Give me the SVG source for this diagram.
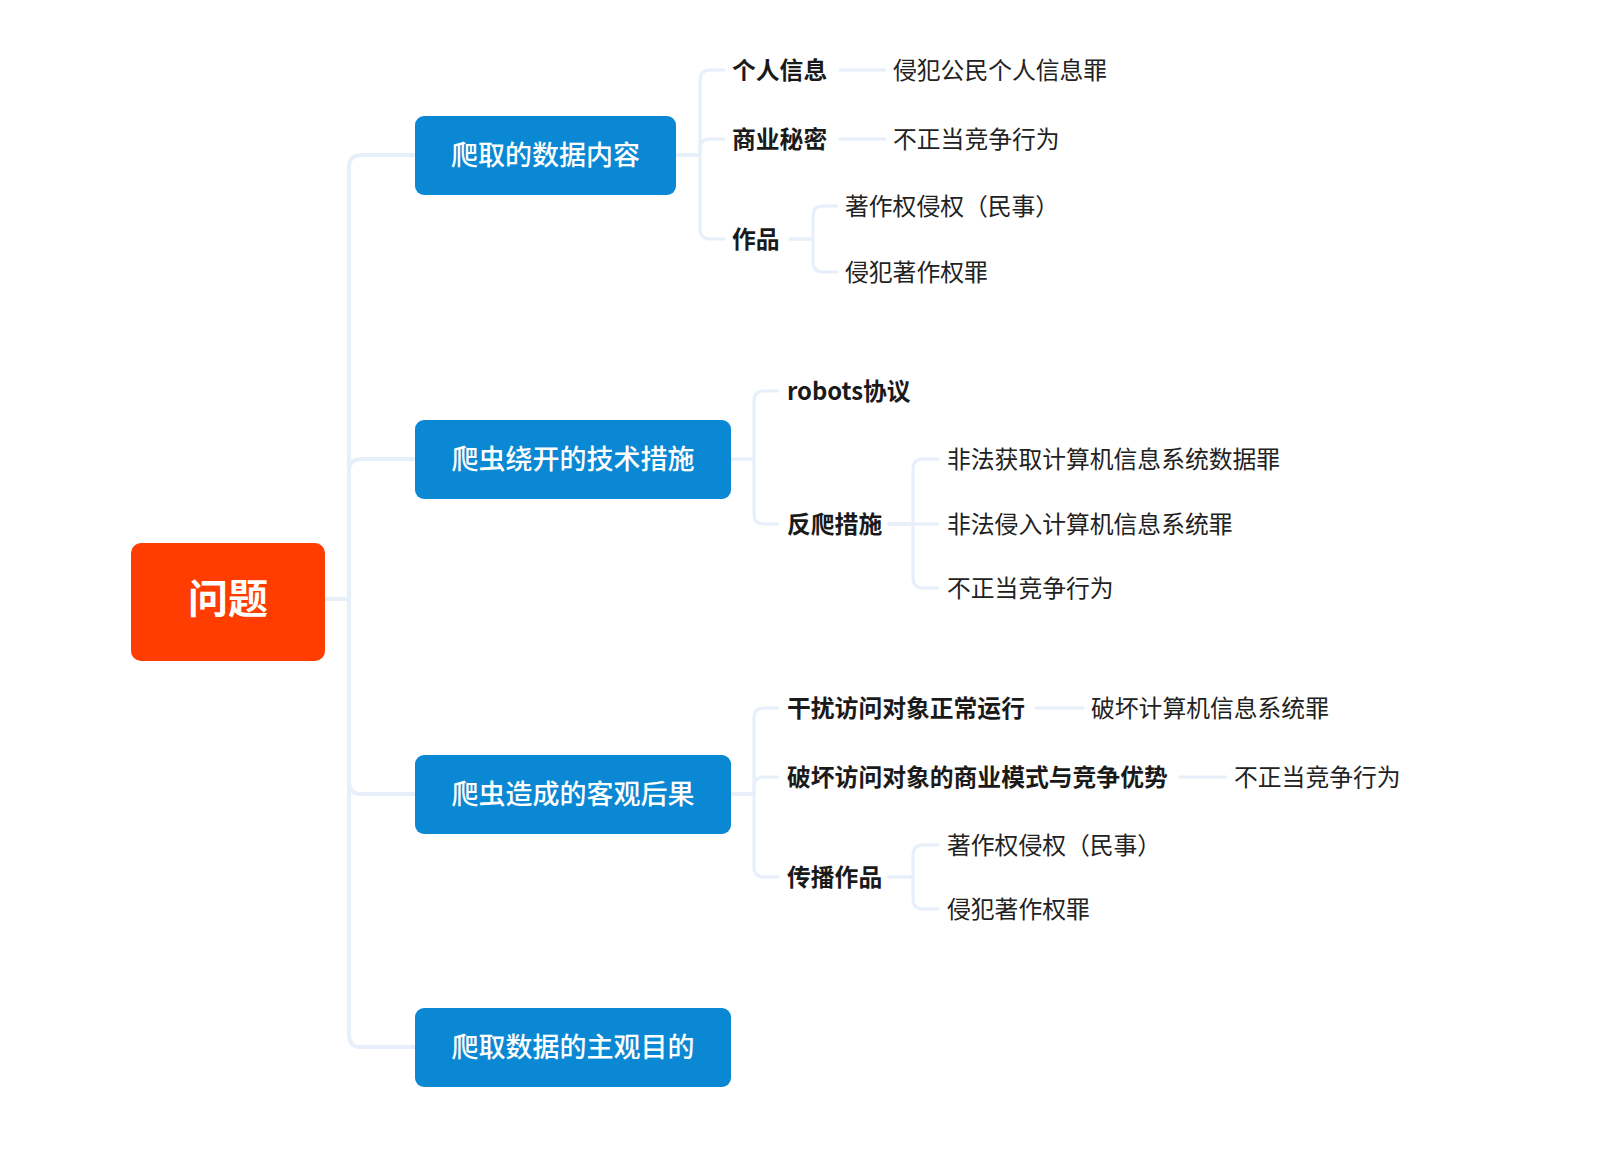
<svg xmlns="http://www.w3.org/2000/svg" width="1609" height="1149" viewBox="0 0 1609 1149">
<style>
.bg{fill:#ffffff}
.c{fill:none;stroke:#E7F0FA;stroke-width:3;stroke-linecap:round;stroke-linejoin:round}
.t{stroke-width:4}
.root rect{fill:#FF3D00}
.main rect{fill:#0A88D3}
.root text{fill:#ffffff;font-family:"Noto Sans CJK SC","Noto Sans",sans-serif;font-size:40px;font-weight:700}
.main text{fill:#ffffff;font-family:"Noto Sans CJK SC","Noto Sans",sans-serif;font-size:27px;font-weight:500}
.sub{fill:#1a1a1a;font-family:"Noto Sans CJK SC","Noto Sans",sans-serif;font-size:23.8px;font-weight:700}
.leaf{fill:#222222;font-family:"Noto Sans CJK SC","Noto Sans",sans-serif;font-size:23.8px;font-weight:400}
</style>
<rect class="bg" x="0" y="0" width="1609" height="1149"/>

<g id="connectors">
  <path class="c t" d="M325,599 H349 V167 Q349,155 361,155 H415"/>
  <path class="c t" d="M325,599 H349 V471 Q349,459 361,459 H415"/>
  <path class="c t" d="M325,599 H349 V782 Q349,794 361,794 H415"/>
  <path class="c t" d="M325,599 H349 V1035 Q349,1047 361,1047 H415"/>
  <path class="c" d="M676,155 H700 V80 Q700,70 710,70 H724"/>
  <path class="c" d="M676,155 H700 V149 Q700,139 710,139 H724"/>
  <path class="c" d="M676,155 H700 V229 Q700,239 710,239 H724"/>
  <path class="c" d="M840,70 H885"/>
  <path class="c" d="M840,139 H885"/>
  <path class="c" d="M790,239 H813 V216 Q813,206 823,206 H837"/>
  <path class="c" d="M790,239 H813 V262 Q813,272 823,272 H837"/>
  <path class="c" d="M731,459 H754 V401 Q754,391 764,391 H778"/>
  <path class="c" d="M731,459 H754 V514 Q754,524 764,524 H778"/>
  <path class="c" d="M889,524 H913 V469 Q913,459 923,459 H938"/>
  <path class="c" d="M889,524 H938"/>
  <path class="c" d="M889,524 H913 V578 Q913,588 923,588 H938"/>
  <path class="c" d="M731,794 H754 V718 Q754,708 764,708 H778"/>
  <path class="c" d="M731,794 H754 V787 Q754,777 764,777 H778"/>
  <path class="c" d="M731,794 H754 V867 Q754,877 764,877 H778"/>
  <path class="c" d="M1036,708 H1083"/>
  <path class="c" d="M1180,777 H1226"/>
  <path class="c" d="M889,877 H913 V855 Q913,845 923,845 H938"/>
  <path class="c" d="M889,877 H913 V899 Q913,909 923,909 H938"/>
</g>

<g id="root" class="root">
  <rect x="131" y="543" width="194" height="118" rx="10"/>
  <text x="228" y="596" text-anchor="middle" dominant-baseline="central">问题</text>
</g>

<g id="n1" class="main">
  <rect x="415" y="116" width="261" height="79" rx="9"/>
  <text x="545.5" y="153" text-anchor="middle" dominant-baseline="central">爬取的数据内容</text>
</g>
<g id="n2" class="main">
  <rect x="415" y="420" width="316" height="79" rx="9"/>
  <text x="573" y="457" text-anchor="middle" dominant-baseline="central">爬虫绕开的技术措施</text>
</g>
<g id="n3" class="main">
  <rect x="415" y="755" width="316" height="79" rx="9"/>
  <text x="573" y="792" text-anchor="middle" dominant-baseline="central">爬虫造成的客观后果</text>
</g>
<g id="n4" class="main">
  <rect x="415" y="1008" width="316" height="79" rx="9"/>
  <text x="573" y="1045" text-anchor="middle" dominant-baseline="central">爬取数据的主观目的</text>
</g>

<g id="n1a"><text class="sub" x="732" y="68" dominant-baseline="central">个人信息</text></g>
<g id="n1a1"><text class="leaf" x="893" y="68" dominant-baseline="central">侵犯公民个人信息罪</text></g>
<g id="n1b"><text class="sub" x="732" y="137" dominant-baseline="central">商业秘密</text></g>
<g id="n1b1"><text class="leaf" x="893" y="137" dominant-baseline="central">不正当竞争行为</text></g>
<g id="n1c"><text class="sub" x="732" y="237" dominant-baseline="central">作品</text></g>
<g id="n1c1"><text class="leaf" x="845" y="204" dominant-baseline="central">著作权侵权（民事）</text></g>
<g id="n1c2"><text class="leaf" x="845" y="270" dominant-baseline="central">侵犯著作权罪</text></g>

<g id="n2a"><text class="sub" x="787" y="389" dominant-baseline="central">robots协议</text></g>
<g id="n2b"><text class="sub" x="787" y="522" dominant-baseline="central">反爬措施</text></g>
<g id="n2b1"><text class="leaf" x="947" y="457" dominant-baseline="central">非法获取计算机信息系统数据罪</text></g>
<g id="n2b2"><text class="leaf" x="947" y="522" dominant-baseline="central">非法侵入计算机信息系统罪</text></g>
<g id="n2b3"><text class="leaf" x="947" y="586" dominant-baseline="central">不正当竞争行为</text></g>

<g id="n3a"><text class="sub" x="787" y="706" dominant-baseline="central">干扰访问对象正常运行</text></g>
<g id="n3a1"><text class="leaf" x="1091" y="706" dominant-baseline="central">破坏计算机信息系统罪</text></g>
<g id="n3b"><text class="sub" x="787" y="775" dominant-baseline="central">破坏访问对象的商业模式与竞争优势</text></g>
<g id="n3b1"><text class="leaf" x="1234" y="775" dominant-baseline="central">不正当竞争行为</text></g>
<g id="n3c"><text class="sub" x="787" y="875" dominant-baseline="central">传播作品</text></g>
<g id="n3c1"><text class="leaf" x="947" y="843" dominant-baseline="central">著作权侵权（民事）</text></g>
<g id="n3c2"><text class="leaf" x="947" y="907" dominant-baseline="central">侵犯著作权罪</text></g>
</svg>
